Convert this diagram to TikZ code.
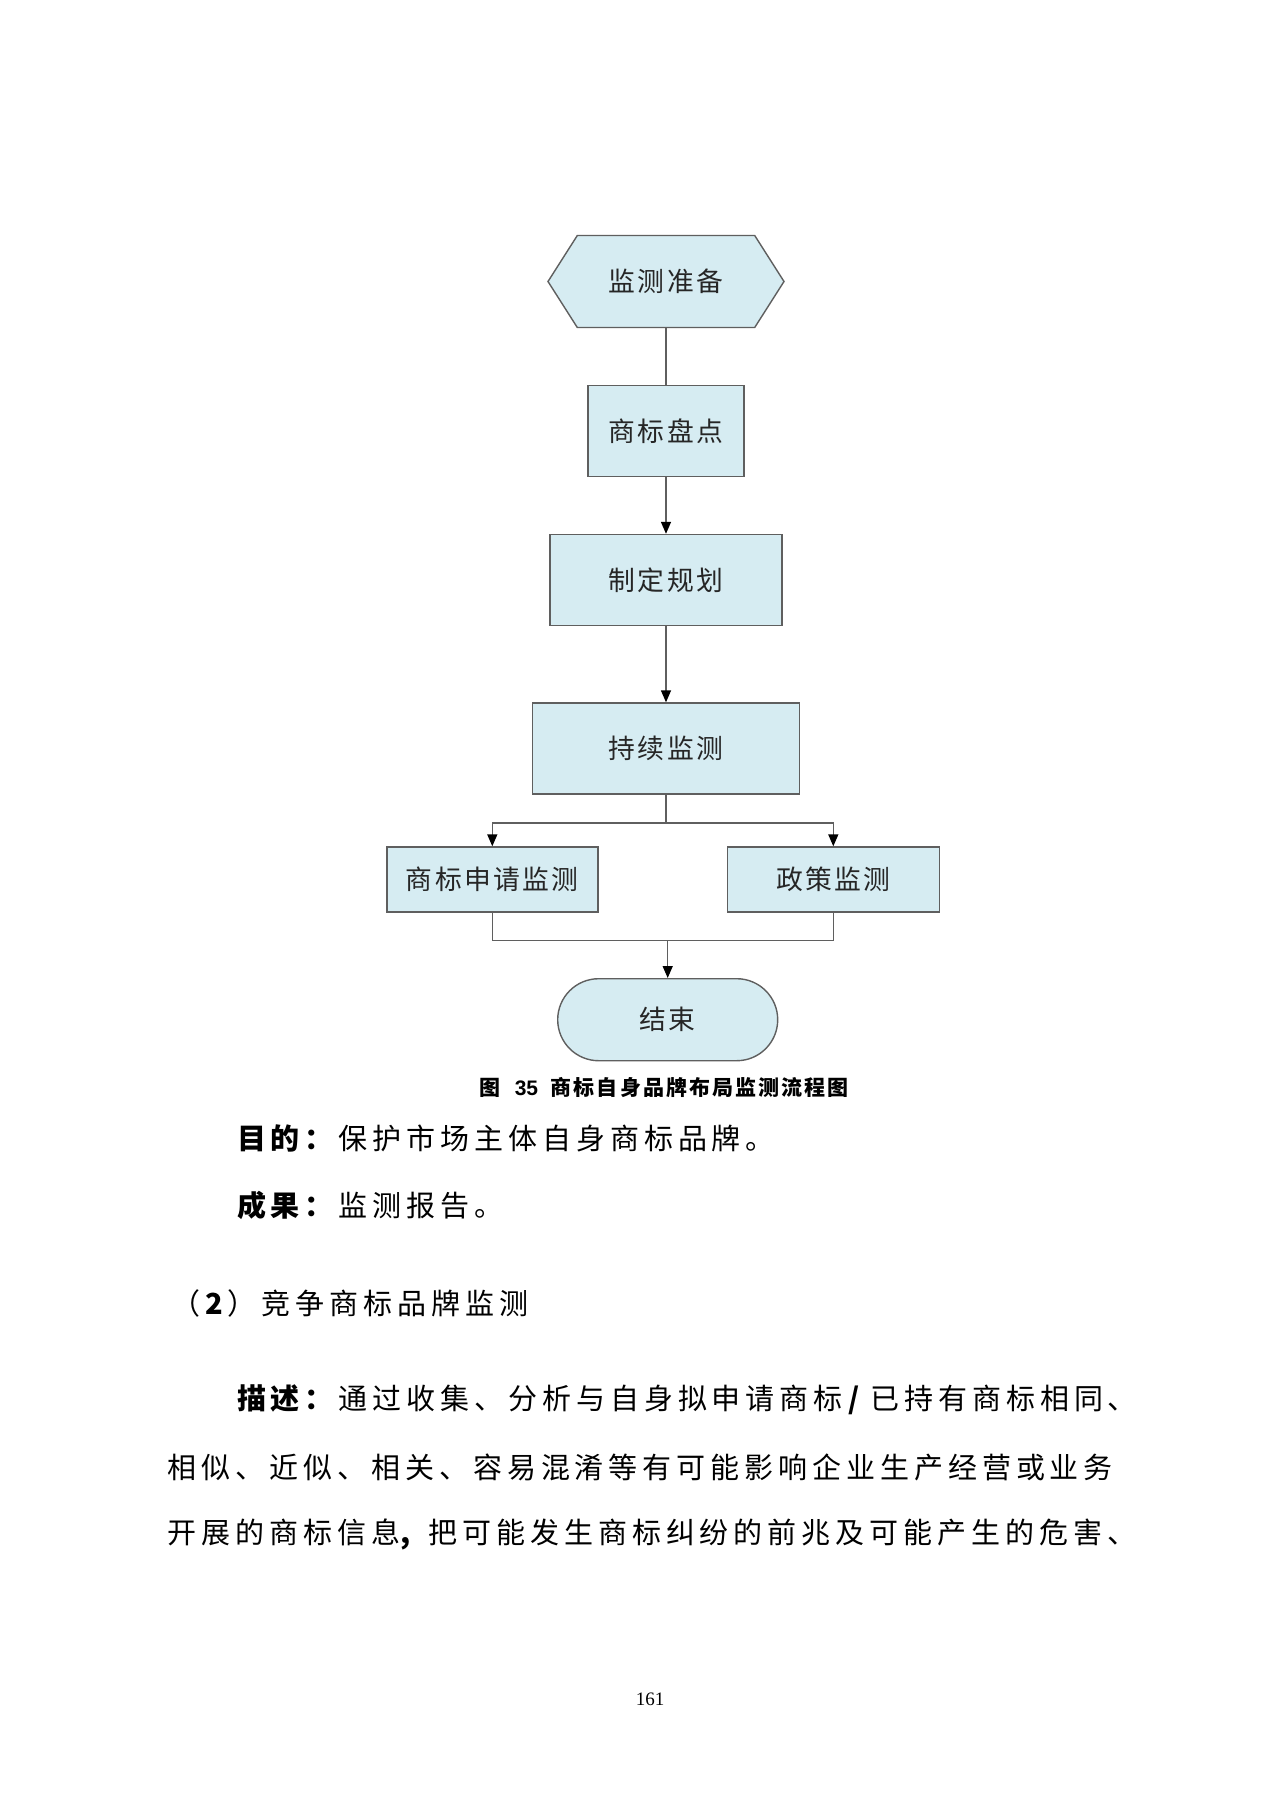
\documentclass[tikz,border=0pt]{standalone}
\usepackage{fontspec}
\usetikzlibrary{shapes.symbols,shapes.misc,arrows.meta}
\newfontfamily\cjknode[LetterSpace=9]{Noto Sans CJK SC}
\newfontfamily\cjkbody[LetterSpace=17]{Noto Sans CJK SC}
\newfontfamily\cjkcap[LetterSpace=10]{Noto Sans CJK SC}
\newfontfamily\serifnum{Liberation Serif}
\definecolor{boxfill}{RGB}{214,236,242}
\definecolor{edgegray}{RGB}{95,95,95}
\tikzset{
  box/.style={draw=edgegray, line width=0.7pt, fill=boxfill, inner sep=0pt,
    font=\cjknode\fontsize{13.4}{15}\selectfont, text=black!85},
  procbox/.style={box, rectangle},
  hexbox/.style={box, signal, signal to=west and east, signal pointer angle=115},
  termbox/.style={box, rounded rectangle},
  conn/.style={draw=edgegray, line width=0.7pt},
  arr/.style={conn, -{Triangle[length=6pt,width=5pt,color=black]}},
  bodytext/.style={anchor=west, inner sep=0pt, font=\cjkbody\fontsize{14.5}{17}\selectfont, text=black}
}
\begin{document}
\begin{tikzpicture}[x=0.5pt,y=-0.5pt]
\fill[white] (0,0) rectangle (1280,1810);
\useasboundingbox (0,0) rectangle (1280,1810);

% flowchart nodes
\node[hexbox, minimum width=118pt, minimum height=46pt] (prep) at (666,281.5) {监测准备};
\node[procbox, minimum width=78pt, minimum height=45.5pt] (count) at (666,431) {商标盘点};
\node[procbox, minimum width=116pt, minimum height=45.5pt] (plan) at (666,580) {制定规划};
\node[procbox, minimum width=133.5pt, minimum height=45.5pt] (mon) at (666,748.5) {持续监测};
\node[procbox, minimum width=105.5pt, minimum height=32.5pt] (app) at (492.3,879.5) {商标申请监测};
\node[procbox, minimum width=106pt, minimum height=32.5pt] (pol) at (833.3,879.5) {政策监测};
\node[termbox, minimum width=110pt, minimum height=41pt] (fin) at (667.7,1019.7) {结束};

\coordinate (br) at (666,823);
\coordinate (mg) at (667.7,940.7);

% connectors
\draw[conn] (prep.south) -- (count.north);
\draw[arr] (count.south) -- (plan.north);
\draw[arr] (plan.south) -- (mon.north);
\draw[conn] (mon.south) -- (br);
\draw[arr] (br) -| (app.north);
\draw[arr] (br) -| (pol.north);
\draw[conn] (app.south) |- (mg);
\draw[conn] (pol.south) |- (mg);
\draw[arr] (mg) -- (fin.north);

% caption
\node[inner sep=0pt, font=\cjkcap\bfseries\fontsize{10.5}{12}\selectfont] (cap) at (664,1087)
  {图\kern0.7em{\fontspec{Liberation Sans}35}\kern0.6em 商标自身品牌布局监测流程图};

% body text
\node[bodytext] (t1) at (236.6,1138) {\textbf{目的：}保护市场主体自身商标品牌。};
\node[bodytext] (t2) at (236.6,1205) {\textbf{成果：}监测报告。};
\node[bodytext] (t3) at (170.8,1303) {（\textbf{2}）竞争商标品牌监测};
\node[bodytext] (t4) at (236.6,1400) {\textbf{描述：}通过收集、分析与自身拟申请商标\kern0.2em\textbf{/}\kern0.2em 已持有商标相同、};
\node[bodytext] (t5) at (167.4,1467) {相似、近似、相关、容易混淆等有可能影响企业生产经营或业务};
\node[bodytext] (t6) at (167.4,1534) {开展的商标信息\textbf{,}\kern0.45em 把可能发生商标纠纷的前兆及可能产生的危害、};

% page number
\node[inner sep=0pt, font=\serifnum\fontsize{9.5}{11}\selectfont] (pg) at (650,1699) {161};
\end{tikzpicture}
\end{document}
